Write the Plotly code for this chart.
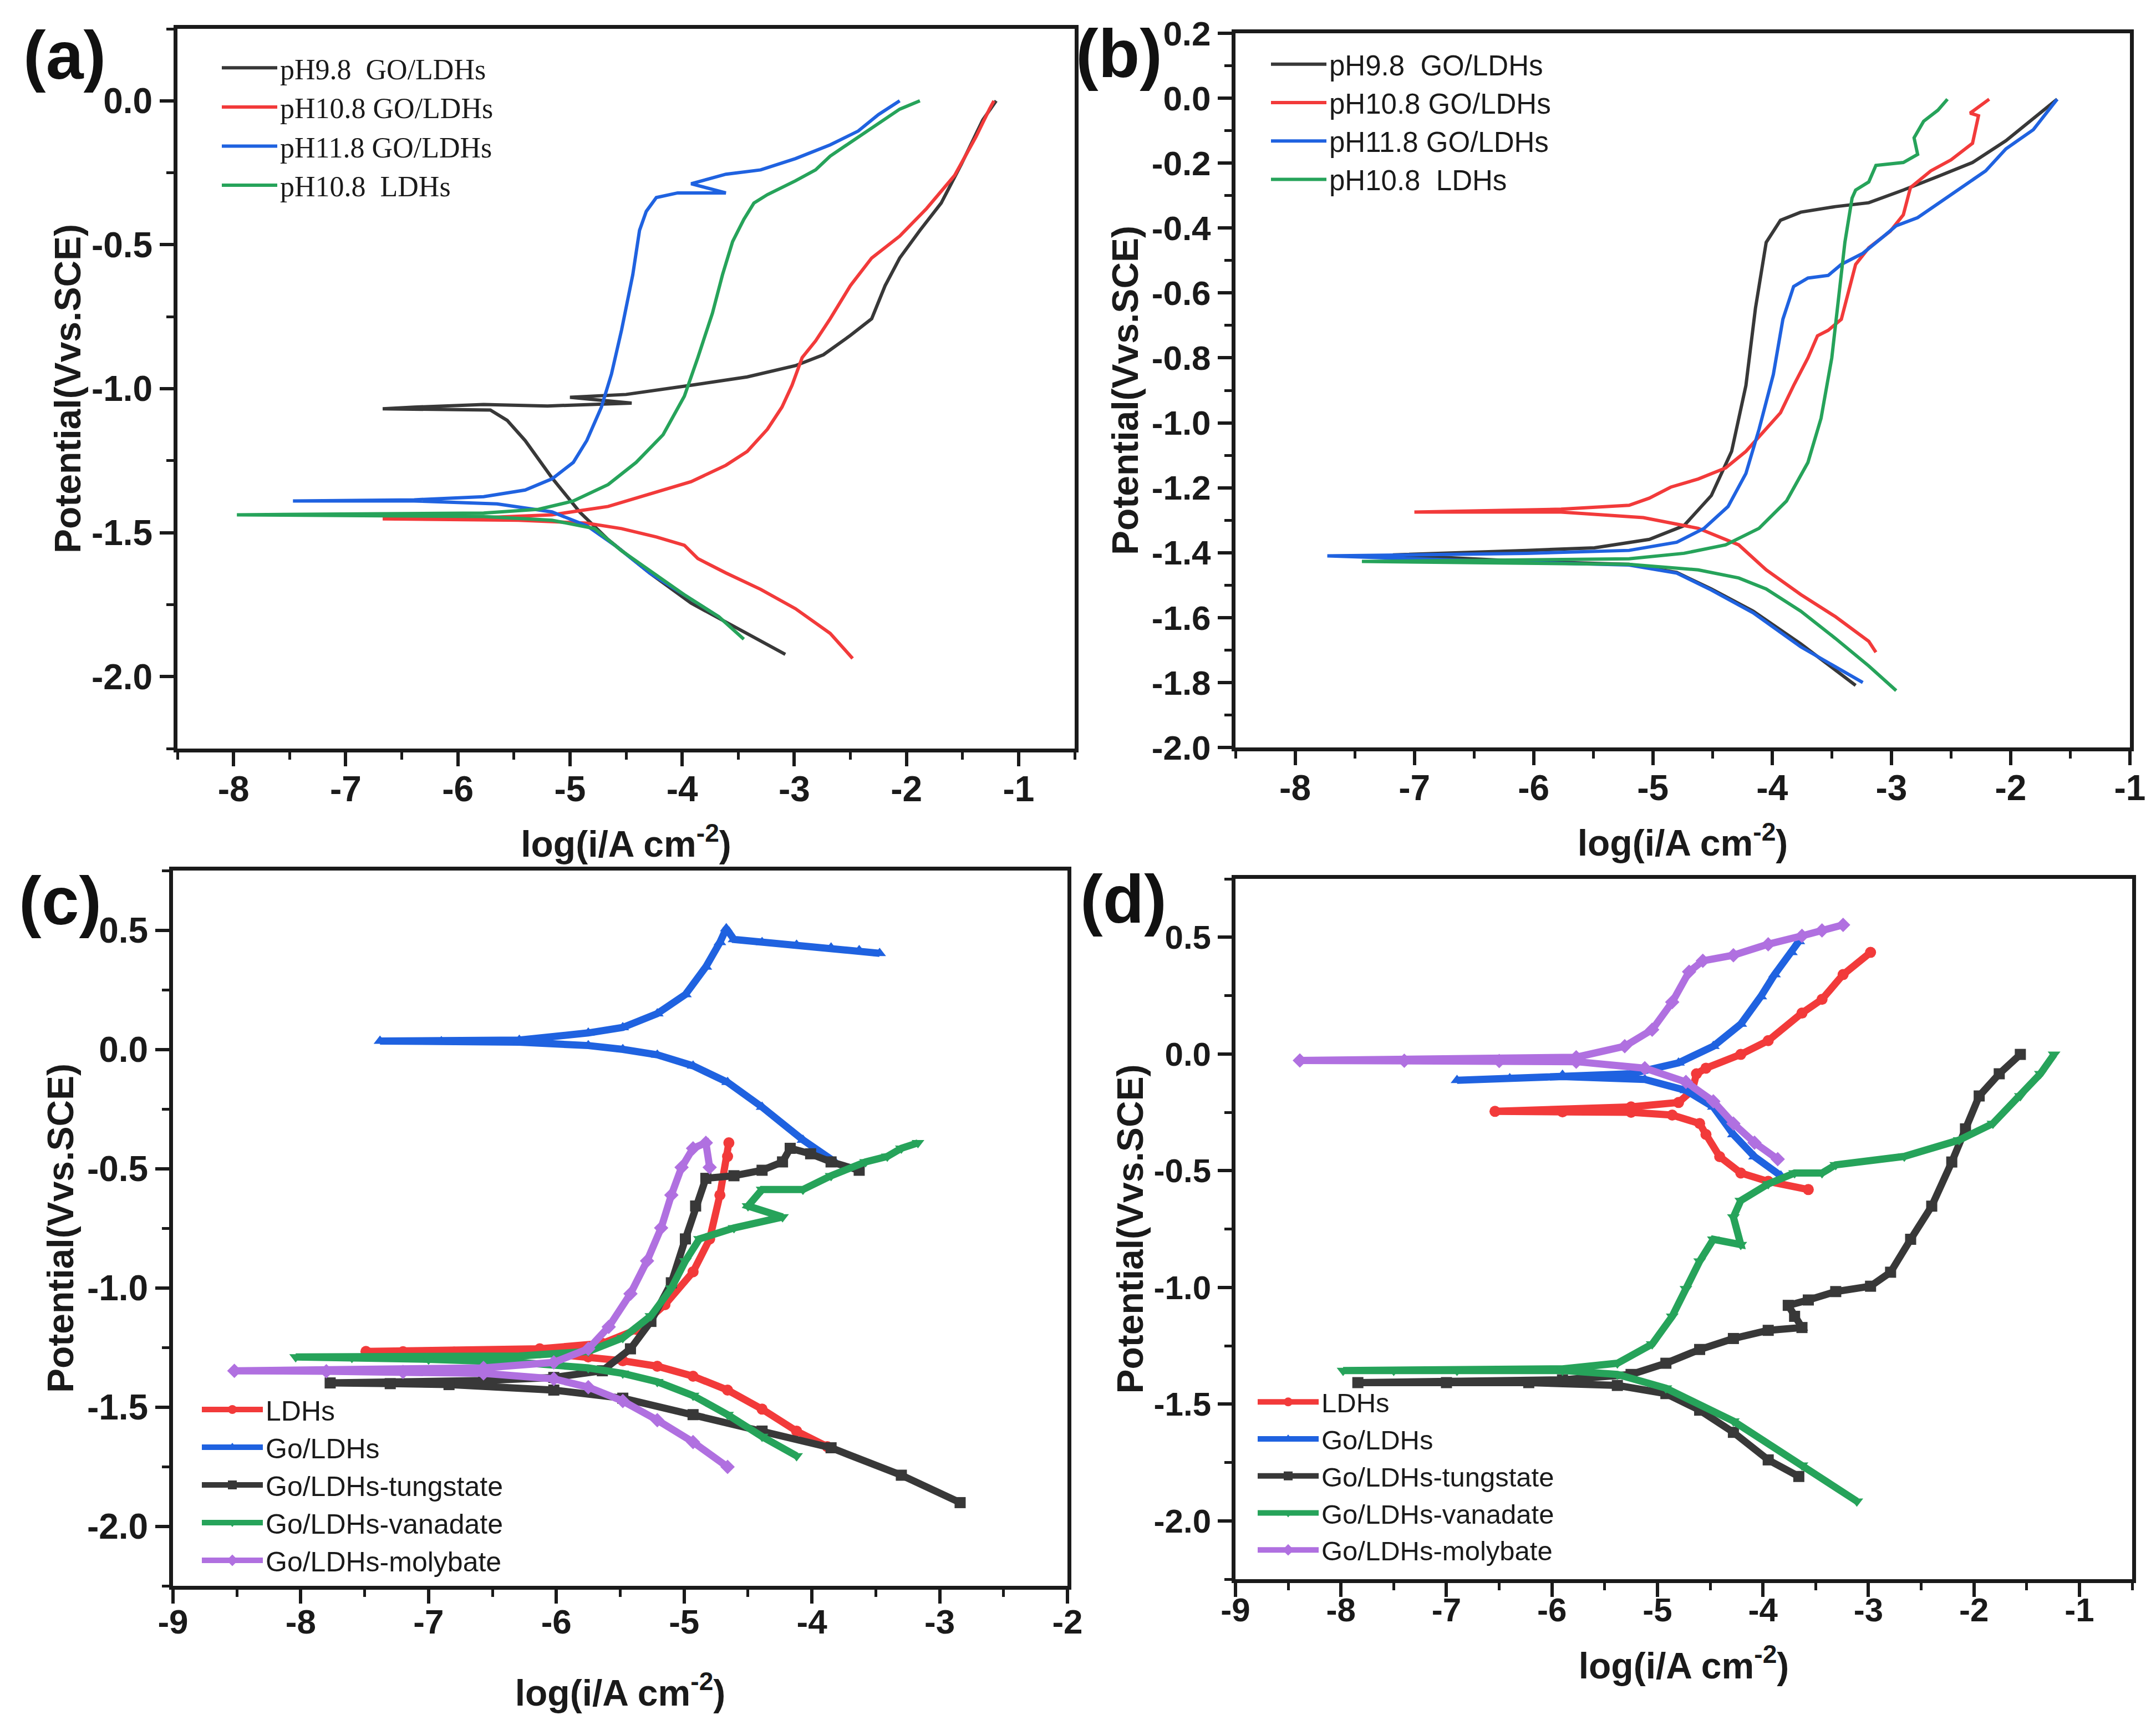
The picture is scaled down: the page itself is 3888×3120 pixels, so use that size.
import plotly.graph_objects as go

W, H = 3888, 3120

# ---------------- Panel (a) ----------------
a_ph98_x = [-3.08, -3.42, -3.92, -4.29, -4.66, -4.91, -5.16, -5.40, -5.56, -5.71, -6.67, -6.39, -5.77,
            -5.2, -4.45, -5.0, -4.5, -3.92, -3.42, -2.99, -2.74, -2.50, -2.31, -2.19, -2.06, -1.88, -1.69,
            -1.51, -1.32, -1.20]
a_ph98_y = [-1.923, -1.85, -1.745, -1.64, -1.524, -1.43, -1.31, -1.18, -1.11, -1.074, -1.07, -1.064, -1.055,
            -1.06, -1.05, -1.03, -1.02, -0.988, -0.959, -0.92, -0.882, -0.815, -0.757, -0.642, -0.546, -0.45,
            -0.355, -0.22, -0.067, 0.0]
a_ph108_x = [-2.48, -2.68, -2.99, -3.30, -3.61, -3.86, -3.98, -4.23, -4.54, -4.85, -5.46, -6.67, -5.77, -5.16,
             -4.66, -4.23, -3.92, -3.61, -3.42, -3.24, -3.11, -3.02, -2.93, -2.81, -2.68, -2.50, -2.31, -2.06,
             -1.82, -1.57, -1.38, -1.26, -1.22]
a_ph108_y = [-1.937, -1.85, -1.764, -1.697, -1.64, -1.59, -1.544, -1.515, -1.486, -1.467, -1.457, -1.452,
             -1.448, -1.438, -1.409, -1.36, -1.323, -1.266, -1.218, -1.141, -1.064, -0.988, -0.892, -0.834,
             -0.757, -0.642, -0.546, -0.47, -0.374, -0.259, -0.125, -0.029, 0.0]
a_ph118_x = [-3.67, -3.98, -4.29, -4.60, -4.85, -5.16, -5.65, -6.39, -7.47, -6.39, -5.77, -5.40, -5.16, -4.97,
             -4.85, -4.72, -4.63, -4.54, -4.44, -4.38, -4.32, -4.23, -4.04, -3.61, -3.92, -3.61, -3.30, -2.99,
             -2.68, -2.43, -2.25, -2.06]
a_ph118_y = [-1.793, -1.716, -1.64, -1.544, -1.476, -1.428, -1.40, -1.39, -1.39, -1.386, -1.375, -1.352,
             -1.313, -1.256, -1.18, -1.064, -0.949, -0.796, -0.604, -0.45, -0.384, -0.336, -0.32, -0.32,
             -0.288, -0.255, -0.24, -0.201, -0.153, -0.105, -0.048, 0.0]
a_ldh_x = [-3.45, -3.67, -3.98, -4.54, -4.78, -5.16, -5.77, -7.97, -5.77, -5.28, -4.97, -4.66, -4.41, -4.17,
           -3.98, -3.86, -3.73, -3.64, -3.55, -3.45, -3.36, -3.24, -2.99, -2.81, -2.68, -2.50, -2.25, -2.06, -1.88]
a_ldh_y = [-1.87, -1.793, -1.716, -1.563, -1.486, -1.457, -1.444, -1.438, -1.432, -1.419, -1.39, -1.333,
           -1.256, -1.16, -1.026, -0.892, -0.738, -0.604, -0.489, -0.412, -0.355, -0.326, -0.278, -0.24,
           -0.192, -0.144, -0.077, -0.029, 0.0]

# ---------------- Panel (b) ----------------
b_ph98_x = [-3.30, -3.76, -4.16, -4.51, -4.80, -5.20, -6.06, -7.18, -6.06, -5.49, -5.03, -4.74, -4.51, -4.34,
            -4.22, -4.14, -4.05, -3.93, -3.76, -3.47, -3.19, -2.90, -2.61, -2.32, -2.04, -1.81, -1.61]
b_ph98_y = [-1.809, -1.681, -1.58, -1.512, -1.461, -1.436, -1.427, -1.407, -1.393, -1.385, -1.359, -1.317,
            -1.224, -1.088, -0.885, -0.647, -0.444, -0.376, -0.351, -0.334, -0.322, -0.283, -0.241, -0.198,
            -0.131, -0.063, -0.003]
b_ph108_x = [-3.13, -3.19, -3.47, -3.76, -4.05, -4.28, -4.62, -5.08, -5.77, -7.0, -5.77, -5.20, -5.03, -4.85,
             -4.62, -4.39, -4.22, -4.05, -3.93, -3.82, -3.70, -3.62, -3.53, -3.42, -3.36, -3.30, -3.19, -3.01,
             -2.90, -2.84, -2.67, -2.50, -2.32, -2.27, -2.34, -2.18]
b_ph108_y = [-1.707, -1.673, -1.597, -1.529, -1.453, -1.376, -1.325, -1.292, -1.275, -1.275, -1.266, -1.254,
             -1.232, -1.198, -1.173, -1.139, -1.088, -1.02, -0.969, -0.885, -0.8, -0.732, -0.715, -0.681,
             -0.597, -0.512, -0.461, -0.41, -0.359, -0.275, -0.224, -0.19, -0.139, -0.054, -0.046, -0.003]
b_ph118_x = [-3.24, -3.76, -4.16, -4.51, -4.80, -5.20, -6.06, -7.73, -6.06, -5.20, -4.80, -4.57, -4.37, -4.22,
             -4.11, -3.99, -3.91, -3.82, -3.70, -3.53, -3.42, -3.24, -3.07, -2.96, -2.78, -2.61, -2.44, -2.21,
             -2.04, -1.81, -1.61]
b_ph118_y = [-1.80, -1.69, -1.585, -1.515, -1.463, -1.438, -1.43, -1.41, -1.402, -1.393, -1.368, -1.325,
             -1.258, -1.156, -1.02, -0.851, -0.681, -0.58, -0.554, -0.546, -0.512, -0.478, -0.427, -0.393,
             -0.368, -0.325, -0.283, -0.224, -0.156, -0.097, -0.003]
b_ldh_x = [-2.96, -3.19, -3.47, -3.76, -4.05, -4.28, -4.62, -5.20, -7.44, -5.20, -4.74, -4.39, -4.11, -3.88,
           -3.70, -3.59, -3.50, -3.45, -3.39, -3.33, -3.30, -3.19, -3.13, -2.90, -2.78, -2.81, -2.73, -2.61, -2.53]
b_ldh_y = [-1.825, -1.749, -1.664, -1.58, -1.512, -1.478, -1.453, -1.436, -1.427, -1.419, -1.402, -1.376,
           -1.325, -1.241, -1.122, -0.986, -0.8, -0.631, -0.444, -0.308, -0.283, -0.258, -0.207, -0.198,
           -0.173, -0.122, -0.071, -0.037, -0.003]

# ---------------- Panel (c) ----------------
c_ldh_x = [-3.88, -4.12, -4.39, -4.66, -4.93, -5.21, -5.48, -5.75, -6.13, -6.8, -7.2, -7.49, -6.13, -5.64,
           -5.37, -5.15, -4.93, -4.80, -4.72, -4.66, -4.65]
c_ldh_y = [-1.666, -1.601, -1.509, -1.429, -1.371, -1.329, -1.306, -1.29, -1.272, -1.27, -1.268, -1.267,
           -1.256, -1.233, -1.175, -1.071, -0.933, -0.795, -0.611, -0.449, -0.392]
c_go_x = [-3.82, -4.07, -4.39, -4.66, -4.93, -5.21, -5.48, -5.75, -6.29, -6.9, -7.38, -6.29, -5.75, -5.48,
          -5.21, -4.99, -4.83, -4.72, -4.67, -4.61, -4.39, -4.12, -3.85, -3.63, -3.47]
c_go_y = [-0.472, -0.38, -0.242, -0.138, -0.069, -0.023, 0.0, 0.016, 0.03, 0.033, 0.035, 0.039, 0.069, 0.092,
          0.15, 0.23, 0.346, 0.449, 0.507, 0.461, 0.449, 0.438, 0.426, 0.415, 0.403]
c_tung_x = [-2.84, -3.30, -3.85, -4.39, -4.93, -5.48, -6.02, -6.84, -7.3, -7.77, -6.57, -6.02, -5.64, -5.42,
            -5.26, -5.10, -4.99, -4.91, -4.83, -4.61, -4.39, -4.23, -4.17, -4.01, -3.85, -3.63]
c_tung_y = [-1.901, -1.786, -1.671, -1.601, -1.532, -1.463, -1.429, -1.406, -1.402, -1.399, -1.389, -1.376,
            -1.348, -1.256, -1.141, -0.979, -0.795, -0.657, -0.541, -0.53, -0.507, -0.472, -0.415, -0.438,
            -0.472, -0.507]
c_van_x = [-4.12, -4.39, -4.66, -4.93, -5.21, -5.48, -5.75, -6.29, -7.0, -7.6, -8.04, -6.29, -5.75, -5.48,
           -5.26, -5.10, -4.99, -4.88, -4.61, -4.23, -4.50, -4.39, -4.07, -3.85, -3.58, -3.41, -3.30, -3.17]
c_van_y = [-1.705, -1.624, -1.532, -1.452, -1.394, -1.359, -1.336, -1.313, -1.3, -1.293, -1.29, -1.286,
           -1.267, -1.21, -1.118, -1.002, -0.887, -0.795, -0.749, -0.703, -0.657, -0.588, -0.588, -0.53,
           -0.472, -0.449, -0.415, -0.392]
c_moly_x = [-4.66, -4.93, -5.21, -5.48, -5.75, -6.02, -6.57, -7.2, -7.8, -8.52, -6.57, -6.02, -5.75, -5.59,
            -5.42, -5.29, -5.18, -5.10, -5.02, -4.93, -4.83, -4.80]
c_moly_y = [-1.751, -1.647, -1.555, -1.475, -1.417, -1.382, -1.359, -1.353, -1.35, -1.348, -1.336, -1.313,
            -1.256, -1.164, -1.025, -0.887, -0.749, -0.611, -0.495, -0.415, -0.392, -0.495]

# ---------------- Panel (d) ----------------
d_ldh_x = [-3.57, -3.95, -4.21, -4.41, -4.54, -4.60, -4.86, -5.25, -5.9, -6.54, -5.25, -4.80, -4.67, -4.63,
           -4.54, -4.21, -3.95, -3.63, -3.44, -3.24, -2.98]
d_ldh_y = [-0.581, -0.546, -0.51, -0.44, -0.345, -0.298, -0.262, -0.25, -0.248, -0.246, -0.227, -0.208,
           -0.156, -0.085, -0.061, -0.002, 0.057, 0.175, 0.234, 0.34, 0.435]
d_go_x = [-3.83, -4.08, -4.28, -4.47, -4.73, -5.12, -5.90, -6.4, -6.90, -5.90, -5.25, -4.80, -4.47, -4.21,
          -4.02, -3.89, -3.73, -3.66]
d_go_y = [-0.522, -0.44, -0.345, -0.227, -0.156, -0.109, -0.097, -0.105, -0.113, -0.09, -0.085, -0.038,
          0.033, 0.128, 0.246, 0.34, 0.435, 0.482]
d_tung_x = [-3.66, -3.95, -4.28, -4.60, -4.92, -5.38, -6.22, -7.0, -7.84, -5.90, -5.25, -4.92, -4.60, -4.28,
            -3.95, -3.63, -3.70, -3.76, -3.57, -3.31, -2.98, -2.79, -2.60, -2.40, -2.21, -2.08, -1.95, -1.76,
            -1.56]
d_tung_y = [-1.81, -1.739, -1.621, -1.526, -1.455, -1.42, -1.408, -1.408, -1.408, -1.396, -1.373, -1.325,
            -1.266, -1.219, -1.184, -1.172, -1.124, -1.077, -1.054, -1.018, -0.995, -0.935, -0.794, -0.652,
            -0.463, -0.321, -0.18, -0.085, -0.002]
d_van_x = [-3.11, -3.63, -4.28, -4.92, -5.38, -5.90, -6.9, -7.5, -7.98, -5.90, -5.38, -5.05, -4.86, -4.73,
           -4.60, -4.47, -4.21, -4.28, -4.21, -3.95, -3.70, -3.44, -3.31, -2.66, -2.14, -1.82, -1.56, -1.37, -1.24]
d_van_y = [-1.916, -1.762, -1.573, -1.432, -1.373, -1.356, -1.356, -1.356, -1.356, -1.349, -1.325, -1.243,
           -1.124, -1.006, -0.888, -0.794, -0.817, -0.699, -0.628, -0.557, -0.51, -0.51, -0.475, -0.439,
           -0.369, -0.298, -0.18, -0.085, -0.002]
d_moly_x = [-3.86, -4.08, -4.28, -4.47, -4.73, -5.12, -5.77, -6.5, -7.4, -8.39, -5.77, -5.31, -5.05, -4.86,
            -4.70, -4.57, -4.28, -3.95, -3.63, -3.44, -3.24]
d_moly_y = [-0.451, -0.38, -0.298, -0.203, -0.12, -0.061, -0.033, -0.03, -0.029, -0.028, -0.014, 0.033,
            0.104, 0.222, 0.352, 0.399, 0.423, 0.47, 0.506, 0.529, 0.553]

# ---------------- names / ticks ----------------
ab_names = ["pH9.8  GO/LDHs", "pH10.8 GO/LDHs", "pH11.8 GO/LDHs", "pH10.8  LDHs"]
cd_names = ["LDHs", "Go/LDHs", "Go/LDHs-tungstate", "Go/LDHs-vanadate", "Go/LDHs-molybate"]

a_xticks = [-8, -7, -6, -5, -4, -3, -2, -1]
a_yticks = [0.0, -0.5, -1.0, -1.5, -2.0]
b_xticks = [-8, -7, -6, -5, -4, -3, -2, -1]
b_yticks = [0.2, 0.0, -0.2, -0.4, -0.6, -0.8, -1.0, -1.2, -1.4, -1.6, -1.8, -2.0]
c_xticks = [-9, -8, -7, -6, -5, -4, -3, -2]
c_yticks = [0.5, 0.0, -0.5, -1.0, -1.5, -2.0]
d_xticks = [-9, -8, -7, -6, -5, -4, -3, -2, -1]
d_yticks = [0.5, 0.0, -0.5, -1.0, -1.5, -2.0]

BLACK, RED, BLUE, GREEN, PURPLE = "#383838", "#f23a3a", "#1f62e0", "#26a35a", "#b070e0"
INK = "#1a1a1a"
SANS = "Liberation Sans, Arial, sans-serif"
SERIF = "Liberation Serif, Times New Roman, serif"

fig = go.Figure()

def add_ab(xs, ys, name, color, xa, ya, leg):
    fig.add_trace(go.Scatter(x=xs, y=ys, name=name, mode="lines",
                             line=dict(color=color, width=6), xaxis=xa, yaxis=ya, legend=leg))

for (xs, ys), nm, col in zip([(a_ph98_x, a_ph98_y), (a_ph108_x, a_ph108_y), (a_ph118_x, a_ph118_y),
                              (a_ldh_x, a_ldh_y)], ab_names, [BLACK, RED, BLUE, GREEN]):
    add_ab(xs, ys, nm, col, "x", "y", "legend")
for (xs, ys), nm, col in zip([(b_ph98_x, b_ph98_y), (b_ph108_x, b_ph108_y), (b_ph118_x, b_ph118_y),
                              (b_ldh_x, b_ldh_y)], ab_names, [BLACK, RED, BLUE, GREEN]):
    add_ab(xs, ys, nm, col, "x2", "y2", "legend2")

cd_colors = [RED, BLUE, BLACK, GREEN, PURPLE]
cd_symbols = ["circle", "triangle-up", "square", "triangle-down", "diamond"]

def add_cd(series, xa, ya, leg):
    for (xs, ys), nm, col, sym in zip(series, cd_names, cd_colors, cd_symbols):
        fig.add_trace(go.Scatter(x=xs, y=ys, name=nm, mode="lines+markers",
                                 line=dict(color=col, width=13),
                                 marker=dict(color=col, size=20, symbol=sym),
                                 xaxis=xa, yaxis=ya, legend=leg))

add_cd([(c_ldh_x, c_ldh_y), (c_go_x, c_go_y), (c_tung_x, c_tung_y), (c_van_x, c_van_y),
        (c_moly_x, c_moly_y)], "x3", "y3", "legend3")
add_cd([(d_ldh_x, d_ldh_y), (d_go_x, d_go_y), (d_tung_x, d_tung_y), (d_van_x, d_van_y),
        (d_moly_x, d_moly_y)], "x4", "y4", "legend4")


def fx(px):
    return px / W


def fy(py):
    return 1 - py / H


def axis(anchor, domain, rng, ticks, fmt, minor_dtick, title, standoff, lab_shift=0, fsize=64):
    return dict(
        anchor=anchor, domain=domain, range=rng, tickmode="array", tickvals=ticks,
        ticktext=[fmt.format(t) for t in ticks], automargin=False,
        showline=True, mirror=True, linecolor=INK, linewidth=7,
        ticks="outside", ticklen=25, tickwidth=6, tickcolor=INK,
        ticklabelstandoff=lab_shift,
        showgrid=False, zeroline=False,
        tickfont=dict(family=SANS, size=fsize, color=INK, weight="bold"),
        minor=dict(tickmode="linear", tick0=0, dtick=minor_dtick, ticks="outside",
                   ticklen=13, tickwidth=5, tickcolor=INK, showgrid=False),
        title=dict(text=title, font=dict(family=SANS, size=66, color=INK, weight="bold"),
                   standoff=standoff),
    )

XT = "log(i/A cm<sup>-2</sup>)"
YT = "Potential(Vvs.SCE)"

fig.update_layout(
    template="none",
    width=W, height=H, margin=dict(l=0, r=0, t=0, b=0, pad=0), autosize=False,
    paper_bgcolor="white", plot_bgcolor="white",
    xaxis=axis("y", [fx(320), fx(1938)], [-8.5, -0.5], a_xticks, "{:d}", 0.5, XT, 44, -14),
    yaxis=axis("x", [fy(1350), fy(52)], [-2.25, 0.25], a_yticks, "{:.1f}", 0.25, YT, 0),
    xaxis2=axis("y2", [fx(2228), fx(3841)], [-8.5, -1], b_xticks, "{:d}", 0.5, XT, 44, -14),
    yaxis2=axis("x2", [fy(1348), fy(60)], [-2.0, 0.2], b_yticks, "{:.1f}", 0.1, YT, 5, 0, 62),
    xaxis3=axis("y3", [fx(312), fx(1925)], [-9, -2], c_xticks, "{:d}", 0.5, XT, 74, -20, 62),
    yaxis3=axis("x3", [fy(2860), fy(1570)], [-2.25, 0.75], c_yticks, "{:.1f}", 0.25, YT, 5),
    xaxis4=axis("y4", [fx(2228), fx(3845)], [-9, -0.5], d_xticks, "{:d}", 0.5, XT, 47, -28, 60),
    yaxis4=axis("x4", [fy(2848), fy(1585)], [-2.25, 0.75], d_yticks, "{:.1f}", 0.25, YT, 0, 0, 60),
    showlegend=True,
    legend=dict(x=fx(395), y=fy(82), xanchor="left", yanchor="top", bgcolor="rgba(0,0,0,0)",
                font=dict(family=SERIF, size=52, color=INK), itemwidth=100, tracegroupgap=0),
    legend2=dict(x=fx(2287), y=fy(76), xanchor="left", yanchor="top", bgcolor="rgba(0,0,0,0)",
                 font=dict(family=SANS, size=51, color=INK), itemwidth=100, tracegroupgap=0),
    legend3=dict(x=fx(359), y=fy(2503), xanchor="left", yanchor="top", bgcolor="rgba(0,0,0,0)",
                 font=dict(family=SANS, size=50, color=INK), itemwidth=110, tracegroupgap=0),
    legend4=dict(x=fx(2263), y=fy(2490), xanchor="left", yanchor="top", bgcolor="rgba(0,0,0,0)",
                 font=dict(family=SANS, size=49, color=INK), itemwidth=110, tracegroupgap=0),
)

for txt, cx, cy in [("(a)", 116, 100), ("(b)", 2018, 97), ("(c)", 108, 1625), ("(d)", 2026, 1622)]:
    fig.add_annotation(text=txt, x=fx(cx), y=fy(cy), xref="paper", yref="paper", showarrow=False,
                       xanchor="center", yanchor="middle",
                       font=dict(family=SANS, size=122, color="#111", weight="bold"))

fig.write_html("out.html")
